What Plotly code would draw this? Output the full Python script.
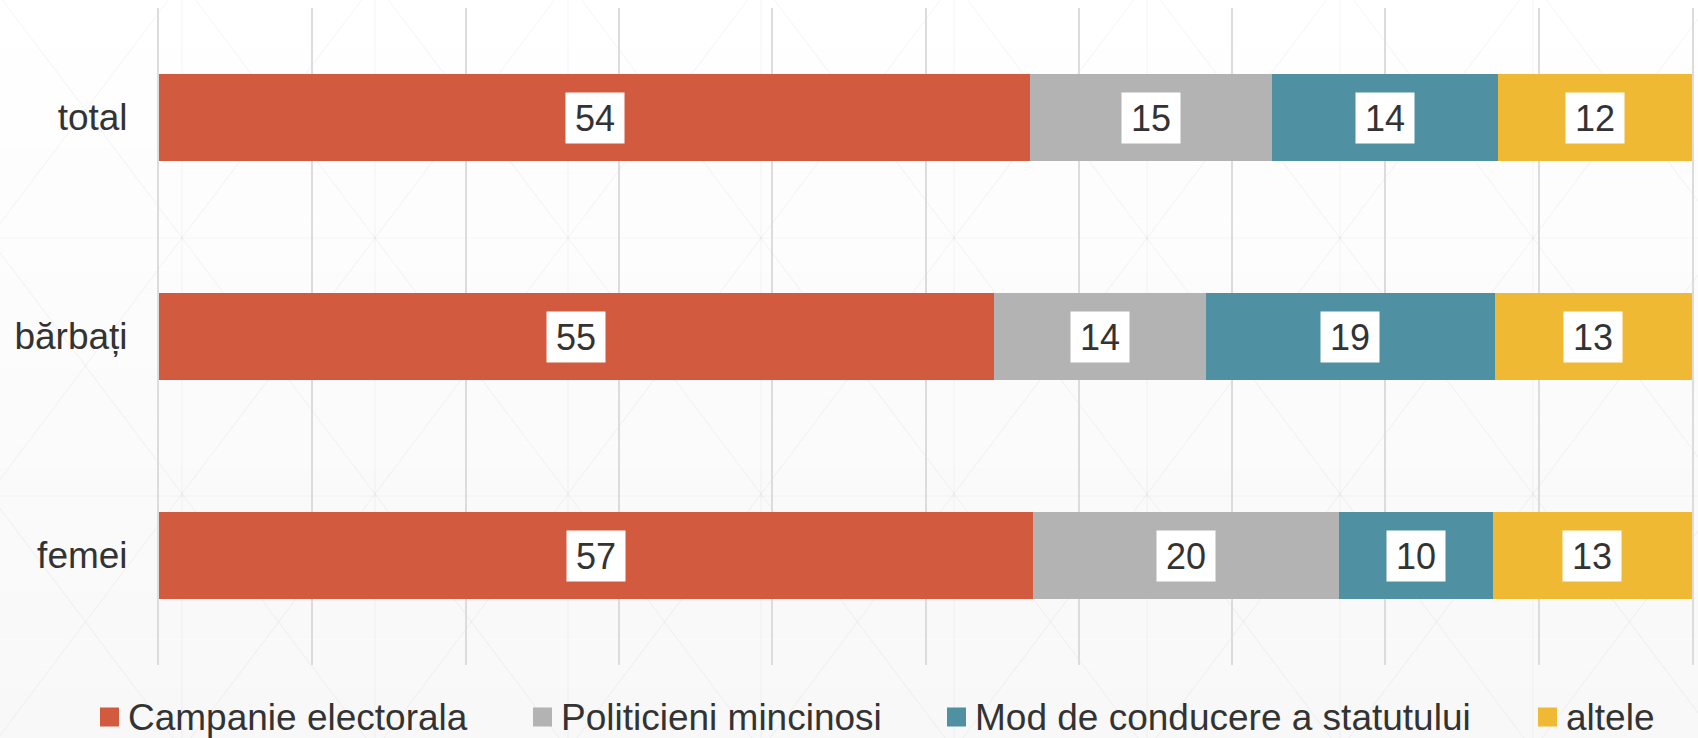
import plotly.graph_objects as go

# ---------------- data ----------------
categories = ["total", "bărbați", "femei"]
series_names = ["Campanie electorala", "Politicieni mincinosi",
                "Mod de conducere a statutului", "altele"]
campanie = [54, 55, 57]
politicieni = [15, 14, 20]
mod_conducere = [14, 19, 10]
altele = [12, 13, 13]
series_values = [campanie, politicieni, mod_conducere, altele]
colors = ["#D15A3F", "#B3B3B3", "#4F91A2", "#F0B934"]

# ---------------- geometry helpers (layout only) ----------------
W, H = 1698, 738
L, R, T, B = 159, 6, 8, 73
PW, PH = W - L - R, H - T - B


def px_x(px):
    return (px - L) / PW


def px_y(py):
    return (H - B - py) / PH


FONT = "Liberation Sans, Arial, sans-serif"
TXT = "#333333"

fig = go.Figure()

for name, vals, col in zip(series_names, series_values, colors):
    fig.add_trace(go.Bar(
        y=categories, x=vals, name=name, orientation="h",
        marker=dict(color=col, line=dict(width=0)),
        showlegend=False, hoverinfo="x+y+name",
    ))

# data labels in white boxes, placed at the centre of each normalised segment
annotations = []
for ci, cat in enumerate(categories):
    row = [s[ci] for s in series_values]
    tot = sum(row)
    cum = 0.0
    for v in row:
        pct = v / tot * 100
        annotations.append(dict(
            x=cum + pct / 2, y=cat, xref="x", yref="y",
            text=str(v), showarrow=False,
            font=dict(family=FONT, size=36, color=TXT),
            bgcolor="white", borderpad=0, width=58, height=50,
        ))
        cum += pct

shapes = []

# legend (swatch + label) along the bottom
legend_swatch_px = [100, 533, 947, 1538]
legend_y_px = 717
for name, col, sx in zip(series_names, colors, legend_swatch_px):
    shapes.append(dict(type="rect", xref="paper", yref="paper",
                       x0=px_x(sx), x1=px_x(sx + 19),
                       y0=px_y(legend_y_px + 9.5), y1=px_y(legend_y_px - 9.5),
                       fillcolor=col, line=dict(width=0), layer="above"))
    annotations.append(dict(
        x=px_x(sx + 27), y=px_y(legend_y_px), xref="paper", yref="paper",
        xanchor="left", yanchor="middle", text=name, showarrow=False,
        font=dict(family=FONT, size=37, color=TXT), borderpad=0,
    ))

# background: soft vertical gradient + faint triangular pattern
nb = 30
for i in range(nb):
    y0 = H * i / nb
    y1 = H * (i + 1) / nb
    c = round(255 - 7 * (i + 0.5) / nb)
    shapes.append(dict(type="rect", xref="paper", yref="paper",
                       x0=px_x(0), x1=px_x(W), y0=px_y(y1), y1=px_y(y0),
                       fillcolor=f"rgb({c},{c},{c})", line=dict(width=0),
                       layer="below"))
pat = dict(color="rgba(0,0,0,0.035)", width=1.2)
run = H / 1.326
for k in range(-3, 10):
    x0 = 2.5 + 193 * k
    shapes.append(dict(type="line", xref="paper", yref="paper",
                       x0=px_x(x0), y0=px_y(0), x1=px_x(x0 + run), y1=px_y(H),
                       line=pat, layer="below"))
for k in range(-1, 12):
    x0 = 168.5 + 193 * k
    shapes.append(dict(type="line", xref="paper", yref="paper",
                       x0=px_x(x0), y0=px_y(0), x1=px_x(x0 - run), y1=px_y(H),
                       line=pat, layer="below"))
for yy in [238, 496]:
    shapes.append(dict(type="line", xref="paper", yref="paper",
                       x0=px_x(0), y0=px_y(yy), x1=px_x(W), y1=px_y(yy),
                       line=pat, layer="below"))
for k in range(0, 9):
    xx = 182 + 193 * k
    shapes.append(dict(type="line", xref="paper", yref="paper",
                       x0=px_x(xx), y0=px_y(0), x1=px_x(xx), y1=px_y(H),
                       line=pat, layer="below"))

fig.update_layout(
    width=W, height=H,
    margin=dict(l=L, r=R, t=T, b=B, pad=0, autoexpand=False),
    barmode="stack", barnorm="percent", bargap=0.6,
    showlegend=False,
    paper_bgcolor="white", plot_bgcolor="rgba(0,0,0,0)",
    font=dict(family=FONT, size=37, color=TXT),
    xaxis=dict(range=[0, 100], dtick=10, tick0=0, showgrid=True,
               gridcolor="#DCDCDC", gridwidth=2, zeroline=False,
               showticklabels=False, showline=False, fixedrange=True),
    yaxis=dict(categoryorder="array", categoryarray=categories,
               autorange="reversed", showgrid=False, zeroline=False,
               showline=True, linecolor="#DCDCDC", linewidth=2, mirror=True,
               ticks="", ticklabelstandoff=22,
               tickfont=dict(family=FONT, size=37, color=TXT),
               fixedrange=True),
    annotations=annotations,
    shapes=shapes,
)

fig.write_html(
    "out.html",
    config={"displayModeBar": False},
    post_script="document.body.style.margin='0';document.body.style.overflow='hidden';",
)
